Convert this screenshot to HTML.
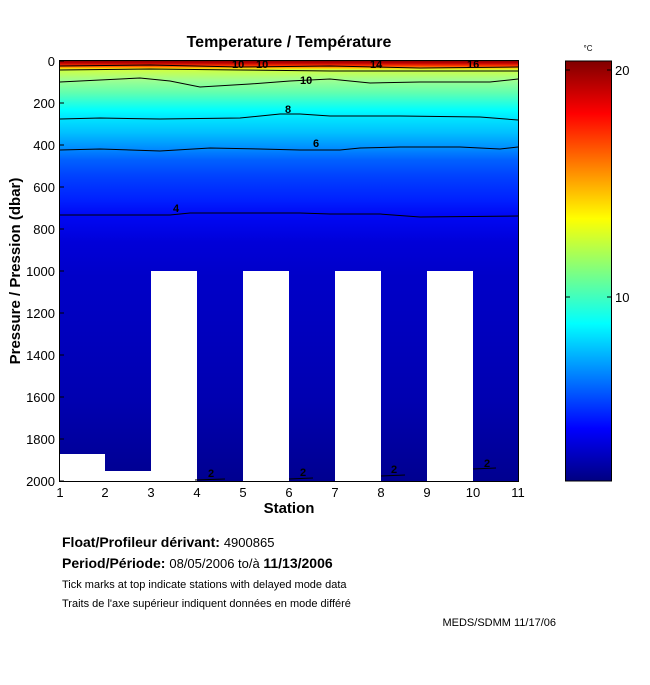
<!DOCTYPE html>
<html><head><meta charset="utf-8"><style>
body{margin:0;background:#fff;width:650px;height:680px;overflow:hidden}
svg text{font-family:"Liberation Sans",Arial,sans-serif}
</style></head><body>
<svg width="650" height="680" viewBox="0 0 650 680" xmlns="http://www.w3.org/2000/svg">
<defs>
<linearGradient id="g" x1="0" y1="0" x2="0" y2="1">
<stop offset="0" stop-color="#900000"/>
<stop offset="0.005" stop-color="#c00000"/>
<stop offset="0.012" stop-color="#ff4000"/>
<stop offset="0.017" stop-color="#ffd000"/>
<stop offset="0.021" stop-color="#d0ff40"/>
<stop offset="0.045" stop-color="#a0ff90"/>
<stop offset="0.076" stop-color="#60ffb0"/>
<stop offset="0.117" stop-color="#00ffff"/>
<stop offset="0.14" stop-color="#00e0ff"/>
<stop offset="0.171" stop-color="#00c0ff"/>
<stop offset="0.205" stop-color="#0090ff"/>
<stop offset="0.236" stop-color="#0060ff"/>
<stop offset="0.276" stop-color="#0040ff"/>
<stop offset="0.331" stop-color="#0020ff"/>
<stop offset="0.367" stop-color="#0008f5"/>
<stop offset="0.433" stop-color="#0000d8"/>
<stop offset="0.514" stop-color="#0000c8"/>
<stop offset="0.81" stop-color="#0000b0"/>
<stop offset="1" stop-color="#000090"/>
</linearGradient>
<linearGradient id="cb" x1="0" y1="1" x2="0" y2="0">
<stop offset="0" stop-color="#000080"/>
<stop offset="0.125" stop-color="#0000ff"/>
<stop offset="0.375" stop-color="#00ffff"/>
<stop offset="0.625" stop-color="#ffff00"/>
<stop offset="0.875" stop-color="#ff0000"/>
<stop offset="1" stop-color="#800000"/>
</linearGradient>
</defs>
<rect x="59.5" y="61" width="459" height="420" fill="url(#g)"/>
<g fill="#fff">
<rect x="151" y="271" width="46" height="211"/>
<rect x="243" y="271" width="46" height="211"/>
<rect x="335" y="271" width="46" height="211"/>
<rect x="427" y="271" width="46" height="211"/>
<rect x="60" y="454" width="45" height="27"/>
<rect x="105" y="471" width="46" height="10"/>
</g>
<g fill="none" stroke="#000" stroke-width="1">
<polyline points="60,66 150,65 240,67 330,66 420,68 518,67"/>
<polyline points="60,70 150,69 240,70 330,71 420,71 518,71"/>
<polyline points="60,82 100,80 140,78 170,81 200,87 250,84 290,81 330,79 370,83 420,82 490,82 518,79"/>
<polyline points="60,119 100,118 160,119 240,118 280,114 300,114 330,116 400,116 480,117 518,120"/>
<polyline points="60,150 100,149 160,151 210,148 260,149 300,150 340,150 360,148 400,147 460,147 500,149 518,147"/>
<polyline points="60,215 170,215 190,213 230,213 300,213 330,214 380,214 420,217 518,216"/>
<polyline points="195,480 225,479"/>
<polyline points="289,479 313,478"/>
<polyline points="381,476 405,475"/>
<polyline points="473,469 496,468"/>
</g>
<g font-size="11" font-weight="bold" fill="#000">
<text x="300" y="84">10</text>
<text x="285" y="113">8</text>
<text x="313" y="147">6</text>
<text x="173" y="212">4</text>
<text x="232" y="68">10</text>
<text x="256" y="68">10</text>
<text x="370" y="68">14</text>
<text x="467" y="68">16</text>
<text x="208" y="477">2</text>
<text x="300" y="476">2</text>
<text x="391" y="473">2</text>
<text x="484" y="467">2</text>
</g>
<rect x="59.5" y="60.5" width="459" height="421" fill="none" stroke="#000"/>
<g stroke="#000">
<line x1="59.5" y1="61" x2="64" y2="61"/><line x1="59.5" y1="103" x2="64" y2="103"/><line x1="59.5" y1="145" x2="64" y2="145"/><line x1="59.5" y1="187" x2="64" y2="187"/><line x1="59.5" y1="229" x2="64" y2="229"/><line x1="59.5" y1="271" x2="64" y2="271"/><line x1="59.5" y1="313" x2="64" y2="313"/><line x1="59.5" y1="355" x2="64" y2="355"/><line x1="59.5" y1="397" x2="64" y2="397"/><line x1="59.5" y1="439" x2="64" y2="439"/><line x1="59.5" y1="481" x2="64" y2="481"/>
</g>
<g font-size="13" text-anchor="end" fill="#000">
<text x="55" y="66">0</text><text x="55" y="108">200</text><text x="55" y="150">400</text><text x="55" y="192">600</text><text x="55" y="234">800</text><text x="55" y="276">1000</text><text x="55" y="318">1200</text><text x="55" y="360">1400</text><text x="55" y="402">1600</text><text x="55" y="444">1800</text><text x="55" y="486">2000</text>
</g>
<g font-size="13" text-anchor="middle" fill="#000">
<text x="60" y="497">1</text><text x="105" y="497">2</text><text x="151" y="497">3</text><text x="197" y="497">4</text><text x="243" y="497">5</text><text x="289" y="497">6</text><text x="335" y="497">7</text><text x="381" y="497">8</text><text x="427" y="497">9</text><text x="473" y="497">10</text><text x="518" y="497">11</text>
</g>
<text x="289" y="513" font-size="15" font-weight="bold" text-anchor="middle">Station</text>
<text x="289" y="47" font-size="16" font-weight="bold" text-anchor="middle">Temperature / Température</text>
<text transform="translate(20,271) rotate(-90)" font-size="15" font-weight="bold" text-anchor="middle">Pressure / Pression (dbar)</text>
<rect x="565.5" y="61" width="46" height="420" fill="url(#cb)" stroke="#000"/>
<line x1="566" y1="70" x2="570" y2="70" stroke="#000"/><line x1="607" y1="70" x2="611" y2="70" stroke="#000"/>
<line x1="566" y1="297" x2="570" y2="297" stroke="#000"/><line x1="607" y1="297" x2="611" y2="297" stroke="#000"/>
<text x="615" y="75" font-size="13">20</text>
<text x="615" y="302" font-size="13">10</text>
<text x="588" y="51" font-size="8" text-anchor="middle">°C</text>
<text x="62" y="547" font-size="14" font-weight="bold">Float/Profileur dérivant: <tspan font-weight="normal" font-size="13">4900865</tspan></text>
<text x="62" y="568" font-size="14" font-weight="bold">Period/Période: <tspan font-weight="normal" font-size="13">08/05/2006  to/à  </tspan>11/13/2006</text>
<text x="62" y="588" font-size="11">Tick marks at top indicate stations with delayed mode data</text>
<text x="62" y="607" font-size="11">Traits de l'axe supérieur indiquent données en mode différé</text>
<text x="556" y="626" font-size="11" text-anchor="end">MEDS/SDMM  11/17/06</text>
</svg>
</body></html>
